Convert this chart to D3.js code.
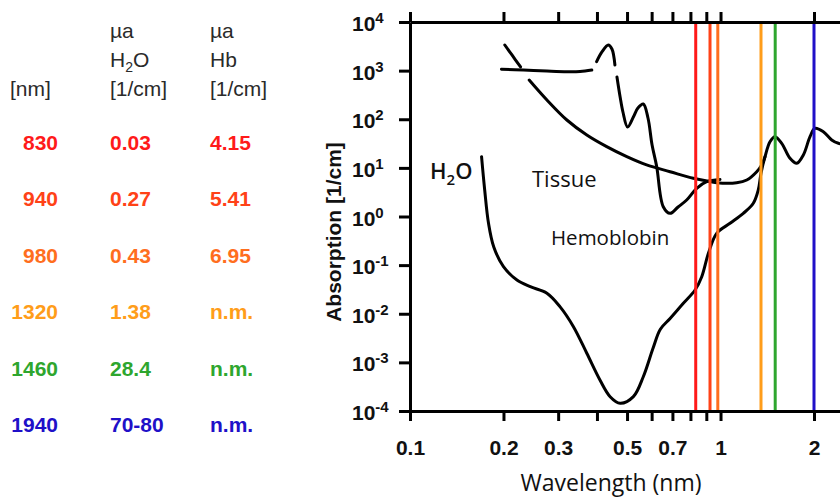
<!DOCTYPE html>
<html>
<head>
<meta charset="utf-8">
<script src="https://cdn.jsdelivr.net/npm/d3@7"></script>
<style>
  body { margin: 0; background: #fff; }
</style>
</head>
<body>
<svg width="840" height="498"></svg>
<script>
// table on the left
var tableNm = ["830", "940", "980", "1320", "1460", "1940"];
var tableH2O = ["0.03", "0.27", "0.43", "1.38", "28.4", "70-80"];
var tableHb = ["4.15", "5.41", "6.95", "n.m.", "n.m.", "n.m."];

// marker lines (wavelength in um, as drawn)
var markerWl = [0.832, 0.925, 0.98, 1.35, 1.5, 2.0];

// axis ticks
var xTicks = [0.1, 0.2, 0.3, 0.4, 0.5, 0.6, 0.7, 0.8, 0.9, 1, 2];
var xLabels = [0.1, 0.2, 0.3, 0.5, 0.7, 1, 2];
var yExps = [-4, -3, -2, -1, 0, 1, 2, 3, 4];

// curves (null = gap in the drawn line)
var waterWl = [0.170, 0.174, 0.179, 0.186, 0.200, 0.221, 0.244, 0.276, 0.304, 0.336, 0.371, 0.409, 0.441, 0.475,
  0.524, 0.564, 0.607, 0.640, 0.688, 0.759, 0.828, 0.870, 0.914, 0.972, 1.073, 1.184, 1.275, 1.323, 1.350,
  1.391, 1.443, 1.498, 1.574, 1.674, 1.760, 1.848, 1.942, 2.015, 2.143, 2.281, 2.396, 2.55];
var waterAbs = [17.0, 3.51, 0.724, 0.239, 0.0929, 0.0494, 0.0360, 0.0264, 0.0140, 0.00542, 0.00154, 0.000434, 0.000197, 0.000144,
  0.000197, 0.000507, 0.00200, 0.00480, 0.00800, 0.0164, 0.0308, 0.0578, 0.175, 0.451, 0.724, 1.16, 1.87, 3.51, 7.73,
  17.0, 34.5, 43.8, 32.0, 15.7, 12.4, 18.4, 43.8, 65.2, 55.5, 37.4, 32.0, 31];

var tissueWl = [0.202, 0.213, 0.227, null, 0.242, 0.276, 0.320, 0.371, 0.430, 0.499, 0.578, 0.688, 0.817, 0.903,
  0.972, 1.127, 1.215, 1.308, 1.357, 1.391];
var tissueAbs = [3365, 2096, 1188, null, 641, 249, 96.5, 47.4, 27.3, 17.0, 11.5, 8.34, 6.11, 5.37,
  4.95, 4.95, 5.63, 8.34, 11.5, 17.0];

var hbWl = [0.197, 0.232, 0.276, 0.320, 0.353, 0.385, null, 0.399, 0.415, 0.435, 0.447, 0.457, null,
  0.464, 0.475, 0.485, 0.502, 0.524, 0.542, 0.564, 0.584, 0.602, 0.623, 0.654, 0.688, 0.730, 0.778, 0.838, 0.903, 0.996];
var hbAbs = [1065, 1030, 980, 950, 960, 1030, null, 1527, 2417, 3365, 2786, 1306, null,
  740, 287, 141, 69.3, 111, 170, 206, 106, 29.5, 10.6, 1.59, 1.16, 1.57, 2.18, 3.80, 5.20, 5.77];

var rowColors = ["#ff1a1a", "#ff4217", "#ff6e1e", "#ff9d1a", "#2ea62e", "#2010c8"];

var svg = d3.select("svg");
var sans = "'Liberation Sans', Arial, sans-serif";
var open = "'Open Sans', 'Noto Sans', sans-serif";

var x = d3.scaleLog().domain([0.1, 2]).range([410, 814]);
var y = d3.scaleLog().domain([1e-4, 1e4]).range([411, 22]);

// ---- table ----
var table = svg.append("g")
  .attr("font-family", sans)
  .attr("font-size", 21);

var head = table.append("g").attr("fill", "#2a2a2a");
head.append("text").attr("x", 10).attr("y", 96).text("[nm]");
head.append("text").attr("x", 110).attr("y", 38).text("µa");
var h2o = head.append("text").attr("x", 110).attr("y", 67);
h2o.append("tspan").text("H");
h2o.append("tspan").attr("font-size", 14).attr("dy", 5).text("2");
h2o.append("tspan").attr("dy", -5).text("O");
head.append("text").attr("x", 110).attr("y", 96).text("[1/cm]");
head.append("text").attr("x", 210).attr("y", 38).text("µa");
head.append("text").attr("x", 210).attr("y", 67).text("Hb");
head.append("text").attr("x", 210).attr("y", 96).text("[1/cm]");

var rowY = d3.scalePoint().domain(tableNm).range([150, 432]);

var rows = table.append("g")
  .attr("font-weight", "bold")
  .selectAll("g")
  .data(tableNm)
  .enter().append("g")
  .attr("fill", function(d, i) { return rowColors[i]; })
  .attr("transform", function(d) { return "translate(0," + rowY(d) + ")"; });

rows.append("text").attr("x", 58).attr("text-anchor", "end").text(function(d) { return d; });
rows.append("text").attr("x", 110).text(function(d, i) { return tableH2O[i]; });
rows.append("text").attr("x", 210).text(function(d, i) { return tableHb[i]; });

// ---- curves ----
function pts(a, b) {
  return a.map(function(v, i) { return [v, b[i]]; });
}
var line = d3.line()
  .defined(function(d) { return d[0] != null; })
  .x(function(d) { return x(d[0]); })
  .y(function(d) { return y(d[1]); })
  .curve(d3.curveCatmullRom.alpha(0.5));

var curves = svg.append("g")
  .attr("fill", "none")
  .attr("stroke", "#000")
  .attr("stroke-width", 3)
  .attr("stroke-linejoin", "round")
  .attr("stroke-linecap", "round");

[pts(waterWl, waterAbs), pts(tissueWl, tissueAbs), pts(hbWl, hbAbs)].forEach(function(p) {
  curves.append("path").attr("d", line(p));
});

// ---- marker lines ----
svg.append("g")
  .selectAll("line")
  .data(markerWl)
  .enter().append("line")
  .attr("x1", function(d) { return x(d); })
  .attr("x2", function(d) { return x(d); })
  .attr("y1", y(1e4))
  .attr("y2", y(1e-4))
  .attr("stroke", function(d, i) { return rowColors[i]; })
  .attr("stroke-width", 3);

// ---- axes ----
var xAxisScale = x.copy().domain([0.1, 3]).range([x(0.1), x(3)]);

var gBottom = svg.append("g")
  .attr("transform", "translate(0," + y(1e-4) + ")")
  .call(d3.axisBottom(xAxisScale).tickValues(xTicks).tickSize(10).tickSizeOuter(0)
    .tickFormat(function(d) { return xLabels.indexOf(d) >= 0 ? d : ""; }));
gBottom.selectAll("text")
  .attr("y", 29)
  .attr("dy", "0.71em")
  .attr("font-family", sans)
  .attr("font-size", 21)
  .attr("font-weight", "bold")
  .attr("fill", "#111");

var gTop = svg.append("g")
  .attr("transform", "translate(0," + y(1e4) + ")")
  .call(d3.axisTop(xAxisScale).tickValues(xTicks).tickSize(10).tickSizeOuter(0).tickFormat(""));

var gLeft = svg.append("g")
  .attr("transform", "translate(" + x(0.1) + ",0)")
  .call(d3.axisLeft(y).tickValues(yExps.map(function(e) { return Math.pow(10, e); }))
    .tickSize(11).tickSizeOuter(0).tickFormat(""));

[gBottom, gTop, gLeft].forEach(function(g) {
  g.selectAll("path, line").attr("stroke", "#000").attr("stroke-width", 3);
});

var yl = svg.append("g")
  .attr("font-family", sans)
  .attr("font-weight", "bold")
  .attr("font-size", 21)
  .attr("fill", "#111")
  .selectAll("text")
  .data(yExps)
  .enter().append("text")
  .attr("x", 352)
  .attr("y", function(d) { return y(Math.pow(10, d)) + 9; });
yl.append("tspan").text("10");
yl.append("tspan").attr("font-size", 15).attr("dy", -8).text(function(d) { return d; });

// axis titles
svg.append("text")
  .attr("transform", "translate(341," + 232 + ") rotate(-90)")
  .attr("text-anchor", "middle")
  .attr("font-family", sans)
  .attr("font-weight", "bold")
  .attr("font-size", 21)
  .attr("fill", "#111")
  .text("Absorption [1/cm]");

svg.append("text")
  .attr("x", 611)
  .attr("y", 491)
  .attr("text-anchor", "middle")
  .attr("font-family", open)
  .attr("font-size", 23)
  .attr("fill", "#111")
  .text("Wavelength (nm)");

// curve labels
var lab = svg.append("g").attr("font-family", open).attr("fill", "#111");
var h = lab.append("text").attr("x", 430).attr("y", 179).attr("font-size", 22).attr("font-weight", 600);
h.append("tspan").text("H");
h.append("tspan").attr("font-size", 15).attr("dy", 6).text("2");
h.append("tspan").attr("dy", -6).text("O");
lab.append("text").attr("x", 532).attr("y", 187).attr("font-size", 22).text("Tissue");
lab.append("text").attr("x", 551).attr("y", 245).attr("font-size", 20.5).text("Hemoblobin");
</script>
</body>
</html>
